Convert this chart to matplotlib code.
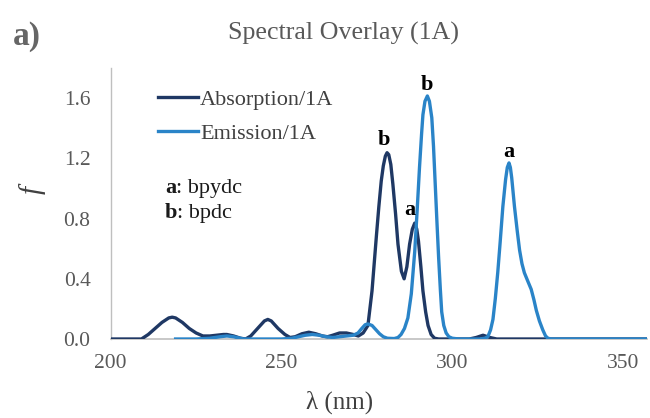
import matplotlib
matplotlib.use("Agg")
import matplotlib.pyplot as plt
from matplotlib.lines import Line2D

# ---------------- data ----------------
abs_wl = [200, 205, 209, 211, 213, 215, 217, 218, 219, 221, 223, 225, 227, 229,
          231, 233, 234, 236, 238, 239.5, 241, 243, 245, 246, 247, 249, 251,
          252.5, 254, 256, 258, 260, 262, 263.5, 265, 267, 269, 271, 272.5,
          273.9, 275.3, 276.5, 277.8, 278.5, 279.2, 279.8, 280.4, 280.9, 281.4,
          282.0, 282.6, 283.4, 284.1, 285.1, 285.9, 286.7, 287.5, 288.3, 289.0,
          289.6, 290.1, 290.8, 291.4, 292.2, 292.9, 293.8, 294.8, 296, 300,
          305, 307, 309, 311, 313, 357]
abs_f = [0, 0, 0, 0.03, 0.07, 0.11, 0.14, 0.145, 0.14, 0.11, 0.07, 0.04, 0.02,
         0.02, 0.025, 0.03, 0.03, 0.02, 0.005, 0.0, 0.02, 0.07, 0.12, 0.13,
         0.12, 0.07, 0.03, 0.01, 0.015, 0.035, 0.045, 0.035, 0.02, 0.015,
         0.025, 0.04, 0.04, 0.03, 0.02,
         0.04, 0.09, 0.32, 0.69, 0.88, 1.05, 1.15, 1.215, 1.238, 1.225,
         1.16, 1.03, 0.83, 0.63, 0.45, 0.40, 0.48, 0.63, 0.73, 0.77,
         0.73, 0.65, 0.48, 0.32, 0.18, 0.09, 0.03, 0.005, 0, 0,
         0.0, 0.01, 0.025, 0.01, 0, 0]

em_wl = [219, 225, 229, 232, 234, 236, 239, 245, 250, 253, 255, 257, 259, 261,
         263, 265, 267, 269, 271, 272.4, 273.5, 274.5, 275.3, 276.5, 277.5,
         278.7, 279.8, 281, 283, 284.1, 285, 286, 287, 288, 289, 289.7, 290.4,
         291, 291.4, 292, 292.7, 293.3, 294, 294.5, 295, 295.5, 296, 296.5,
         296.9, 297.5, 298.2, 299, 300, 302, 308, 309.5, 310.4, 311.2, 311.9,
         312.6, 313.3, 314, 314.8, 315.6, 316.1, 316.6, 317.0, 317.4, 318.2,
         319, 319.7, 320.4, 321.1, 322, 323.1, 323.9, 324.6, 325.5, 326.5,
         327.3, 328, 329, 340, 357]
em_f = [0, 0, 0.005, 0.015, 0.02, 0.015, 0.0, 0.0, 0.0, 0.005, 0.015, 0.025,
        0.03, 0.025, 0.015, 0.01, 0.015, 0.02, 0.025, 0.04, 0.07, 0.095, 0.10,
        0.09, 0.065, 0.035, 0.015, 0.005, 0.003, 0.01, 0.03, 0.07, 0.14, 0.30,
        0.58, 0.85, 1.14, 1.36, 1.49, 1.58, 1.615, 1.58, 1.47, 1.28, 1.03,
        0.78, 0.54, 0.33, 0.18, 0.09, 0.04, 0.015, 0.005, 0, 0, 0.005, 0.015,
        0.06, 0.13, 0.27, 0.44, 0.64, 0.88, 1.06, 1.14, 1.17, 1.14, 1.07, 0.88,
        0.72, 0.59, 0.50, 0.44, 0.39, 0.33, 0.26, 0.19, 0.12, 0.06, 0.02,
        0.005, 0, 0, 0]

series_names = ["Absorption/1A", "Emission/1A"]
x_ticks = [200, 250, 300, 350]
y_ticks = [0.0, 0.4, 0.8, 1.2, 1.6]

# peak labels: (text, wavelength, f-position)
peak_labels = [("b", 280.0, 1.32), ("a", 287.5, 0.86),
               ("b", 292.6, 1.69), ("a", 316.6, 1.24)]
key_letters = ["a", "b"]
key_names = [": bpydc", ": bpdc"]

# ---------------- styling ----------------
SERIF = "Liberation Serif"
plt.rcParams["font.family"] = [SERIF, "DejaVu Serif"]
C_ABS = "#1F3864"
C_EM = "#2A84C8"

fig = plt.figure(figsize=(6.5, 4.18), dpi=100)
ax = fig.add_axes([0.1703, 0.189, 0.8251, 0.648])

ax.plot(abs_wl, abs_f, color=C_ABS, lw=2.4, solid_joinstyle="round", zorder=3)
ax.plot(em_wl, em_f, color=C_EM, lw=2.4, solid_joinstyle="round", zorder=4)

ax.set_xlim(200, 357)
ax.set_ylim(0, 1.8)
ax.set_xticks(x_ticks)
ax.set_yticks(y_ticks)
ax.set_yticklabels([f"{v:.1f}" for v in y_ticks])
ax.tick_params(axis="both", length=0, labelsize=15.5, colors="#595959")
ax.tick_params(axis="y", pad=14.5)
ax.tick_params(axis="x", pad=11)

for s in ["top", "right"]:
    ax.spines[s].set_visible(False)
ax.spines["left"].set_color("#BFBFBF")
ax.spines["bottom"].set_color("#BFBFBF")
ax.spines["left"].set_linewidth(1.0)
ax.spines["bottom"].set_linewidth(1.2)

for txt, xw, yf in peak_labels:
    ax.text(xw, yf, txt, ha="center", va="center", fontsize=16,
            fontweight="bold", color="black", zorder=5)

# legend
handles = [Line2D([], [], color=C_ABS, lw=2.4), Line2D([], [], color=C_EM, lw=2.4)]
leg = fig.legend(handles, series_names, loc="center left",
                 bbox_to_anchor=(158 / 650, 1 - 116.5 / 418),
                 frameon=False, fontsize=16, handlelength=1.8,
                 handletextpad=0.1, labelspacing=0.6, borderpad=0,
                 borderaxespad=0)
for t in leg.get_texts():
    t.set_color("#404040")

# key text
key_y = [188, 213]
for letter, name, yp in zip(key_letters, key_names, key_y):
    t = fig.text(165 / 650, 1 - yp / 418, letter, ha="left", va="center",
                 fontsize=16, fontweight="bold", color="#1a1a1a")
    ax.annotate(name, xy=(1, 0.5), xycoords=t, ha="left", va="center",
                fontsize=16, color="#1a1a1a")

# title, axis labels, panel label
fig.text(343 / 650, 1 - 40 / 418, "Spectral Overlay (1A)", ha="center",
         va="baseline", fontsize=18.7, color="#595959")
fig.text(340 / 650, 1 - 402 / 418, "λ (nm)", ha="center", va="center",
         fontsize=18, color="#404040")
fig.text(32 / 650, 1 - 190 / 418, "f", ha="center", va="center",
         fontsize=21, style="italic", rotation=90, color="#404040")
fig.text(27 / 650, 1 - 36 / 418, "a)", ha="center", va="center",
         fontsize=24, fontweight="bold", color="#666666")

fig.savefig("out.png", dpi=100)
